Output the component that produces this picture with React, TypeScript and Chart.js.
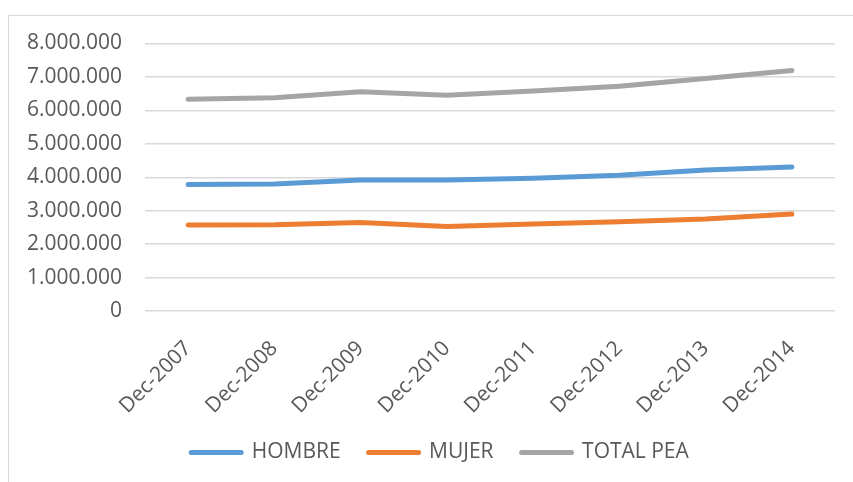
import React, { useEffect, useRef } from "react";
import { Chart, registerables } from "chart.js";
Chart.register(...registerables);

const categories = ["Dec-2007", "Dec-2008", "Dec-2009", "Dec-2010", "Dec-2011", "Dec-2012", "Dec-2013", "Dec-2014"];
const hombre = [3780000, 3800000, 3920000, 3920000, 3970000, 4060000, 4220000, 4310000];
const mujer = [2570000, 2580000, 2650000, 2530000, 2600000, 2670000, 2750000, 2900000];
const totalPea = [6330000, 6380000, 6560000, 6450000, 6580000, 6720000, 6950000, 7190000];
const seriesNames = ["HOMBRE", "MUJER", "TOTAL PEA"];
const yMin = 0;
const yMax = 8000000;
const yStep = 1000000;

const fmt = (v: number) => String(Math.round(v)).replace(/\B(?=(\d{3})+(?!\d))/g, ".");

const legendShift = {
  id: "legendShift",
  afterLayout(chart: any) {
    const l = chart.legend;
    if (l) {
      l.left += 9;
      l.right += 9;
    }
  },
};

export default function App() {
  const ref = useRef<HTMLCanvasElement | null>(null);
  useEffect(() => {
    if (!ref.current) return;
    const font = { family: "'Open Sans', sans-serif", size: 21 };
    const mk = (label: string, data: number[], color: string) => ({
      label,
      data,
      borderColor: color,
      backgroundColor: color,
      borderWidth: 5,
      borderCapStyle: "round" as const,
      borderJoinStyle: "round" as const,
      pointRadius: 0,
      pointHoverRadius: 0,
      tension: 0,
      fill: false,
    });
    const chart = new Chart(ref.current, {
      type: "line",
      data: {
        labels: categories,
        datasets: [
          mk(seriesNames[0], hombre, "#5B9BD5"),
          mk(seriesNames[1], mujer, "#ED7D31"),
          mk(seriesNames[2], totalPea, "#A5A5A5"),
        ],
      },
      plugins: [legendShift],
      options: {
        animation: false,
        responsive: false,
        maintainAspectRatio: false,
        layout: { padding: { left: 18, right: 19, top: 27.5, bottom: 10 } },
        plugins: {
          tooltip: { enabled: false },
          legend: {
            position: "bottom",
            labels: {
              font,
              color: "#595959",
              boxWidth: 50,
              boxHeight: 0,
              padding: 28,
            },
          },
        },
        scales: {
          x: {
            offset: true,
            grid: { display: false },
            border: { display: false },
            afterFit: (s: any) => {
              s.height = 103;
            },
            ticks: {
              font,
              color: "#595959",
              maxRotation: 45,
              minRotation: 45,
              autoSkip: false,
              padding: 17,
            },
          },
          y: {
            min: yMin,
            max: yMax,
            border: { display: false },
            grid: { color: "#d9d9d9", lineWidth: 1.5, drawTicks: false },
            afterFit: (s: any) => {
              s.width = 118;
              s.paddingTop = 0;
              s.paddingBottom = 0;
            },
            ticks: {
              stepSize: yStep,
              font,
              color: "#595959",
              padding: 23,
              callback: (v: any) => fmt(Number(v)),
            },
          },
        },
      },
    });
    return () => chart.destroy();
  }, []);
  return (
    <div
      style={{
        position: "absolute",
        left: 8,
        top: 15,
        width: 860,
        height: 480,
        border: "1px solid #d9d9d9",
        background: "#fff",
      }}
    >
      <canvas ref={ref} width={845} height={467} style={{ display: "block" }} />
    </div>
  );
}
